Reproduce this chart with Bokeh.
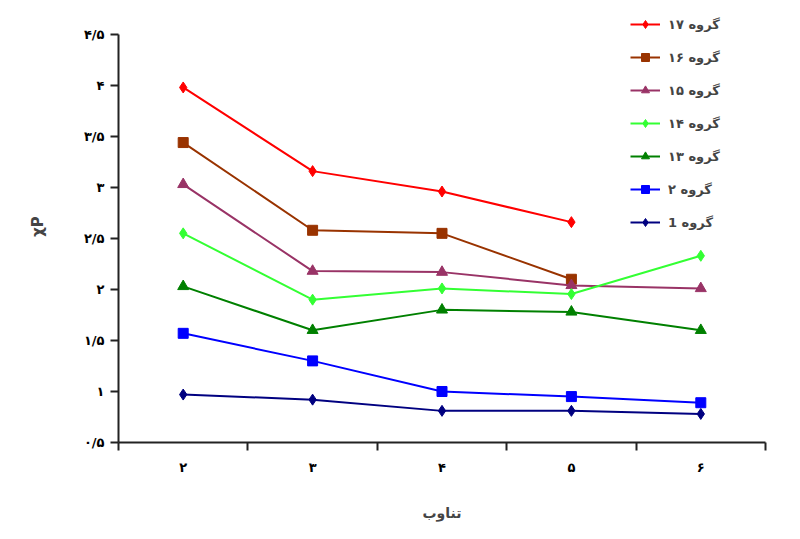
from bokeh.plotting import figure
from bokeh.models import FixedTicker, Legend, LegendItem, Range1d
from bokeh.embed import file_html
from bokeh.resources import INLINE

periods = [2, 3, 4, 5, 6]
x_tick_labels = ["۲", "۳", "۴", "۵", "۶"]
y_ticks = [0.5, 1.0, 1.5, 2.0, 2.5, 3.0, 3.5, 4.0, 4.5]
y_tick_labels = ["۰/۵", "۱", "۱/۵", "۲", "۲/۵", "۳", "۳/۵", "۴", "۴/۵"]

g17 = [3.98, 3.16, 2.96, 2.66, None]
g16 = [3.44, 2.58, 2.55, 2.10, None]
g15 = [3.03, 2.18, 2.17, 2.04, 2.01]
g14 = [2.55, 1.90, 2.01, 1.955, 2.33]
g13 = [2.03, 1.60, 1.80, 1.78, 1.60]
g2 = [1.57, 1.30, 1.00, 0.95, 0.89]
g1 = [0.97, 0.92, 0.81, 0.81, 0.78]

names = ["گروه ۱۷", "گروه ۱۶", "گروه ۱۵", "گروه ۱۴", "گروه ۱۳", "گروه ۲", "گروه 1"]
series = [g17, g16, g15, g14, g13, g2, g1]
colors = ["#FF0000", "#993300", "#993366", "#33FF33", "#008000", "#0000FF", "#000080"]
markers = ["diamond", "square", "triangle", "diamond", "triangle", "square", "diamond"]
msizes = [11, 10, 11, 11, 11, 10, 11]

FONT = "DejaVu Sans"

# frame extends 24px above the 4.5 tick so the legend is not clipped
PX_PER_UNIT = 102.4
Y_TOP = 4.5 + 24 / PX_PER_UNIT

p = figure(width=784, height=523, output_backend="svg", toolbar_location=None,
           x_range=Range1d(1.5, 6.5), y_range=Range1d(0.5, Y_TOP),
           min_border_left=118, min_border_right=19, min_border_top=10,
           min_border_bottom=79)
p.outline_line_color = None
p.grid.visible = False
p.background_fill_color = "white"
p.border_fill_color = "white"

xa = p.xaxis[0]
xa.ticker = FixedTicker(ticks=periods,
                        minor_ticks=[x - 0.5 for x in periods] + [periods[-1] + 0.5])
xa.major_label_overrides = {k: v for k, v in zip(periods, x_tick_labels)}
xa.major_tick_out = 0
xa.major_tick_in = 0
xa.minor_tick_out = 8
xa.minor_tick_in = 0
xa.minor_tick_line_width = 2
xa.axis_line_width = 2
xa.axis_line_color = "#222222"
xa.minor_tick_line_color = "#222222"
xa.major_label_standoff = 9
xa.major_label_text_font = FONT
xa.major_label_text_font_style = "bold"
xa.major_label_text_font_size = "13px"
xa.major_label_text_color = "black"
xa.axis_label = "تناوب"
xa.axis_label_text_font = FONT
xa.axis_label_text_font_style = "bold"
xa.axis_label_text_font_size = "14px"
xa.axis_label_standoff = 27

ya = p.yaxis[0]
ya.ticker = FixedTicker(ticks=y_ticks, minor_ticks=[])
ya.bounds = (y_ticks[0], y_ticks[-1])
ya.major_label_overrides = {k: v for k, v in zip(y_ticks, y_tick_labels)}
ya.major_tick_out = 8
ya.major_tick_in = 0
ya.major_tick_line_width = 2
ya.axis_line_width = 2
ya.axis_line_color = "#222222"
ya.major_tick_line_color = "#222222"
ya.major_label_standoff = 6
ya.major_label_text_font = FONT
ya.major_label_text_font_style = "bold"
ya.major_label_text_font_size = "13px"
ya.major_label_text_color = "black"
ya.axis_label = "χP"
ya.axis_label_text_font = FONT
ya.axis_label_text_font_style = "bold"
ya.axis_label_text_font_size = "15px"
ya.axis_label_standoff = 34

items = []
for name, vals, c, m, s in zip(names, series, colors, markers, msizes):
    xs = [x for x, v in zip(periods, vals) if v is not None]
    ys = [v for v in vals if v is not None]
    r1 = p.line(xs, ys, line_color=c, line_width=2)
    r2 = p.scatter(xs, ys, marker=m, size=s, fill_color=c, line_color=c)
    items.append(LegendItem(label=name, renderers=[r1, r2]))

legend = Legend(items=items, location=(512, 210), glyph_width=30, glyph_height=20,
                label_height=20, spacing=13, padding=0, margin=0,
                border_line_color=None, background_fill_alpha=0,
                label_text_font=FONT, label_text_font_style="bold",
                label_text_font_size="13px", label_standoff=8)
p.add_layout(legend, "center")

open("out.html", "w").write(file_html(p, INLINE))
